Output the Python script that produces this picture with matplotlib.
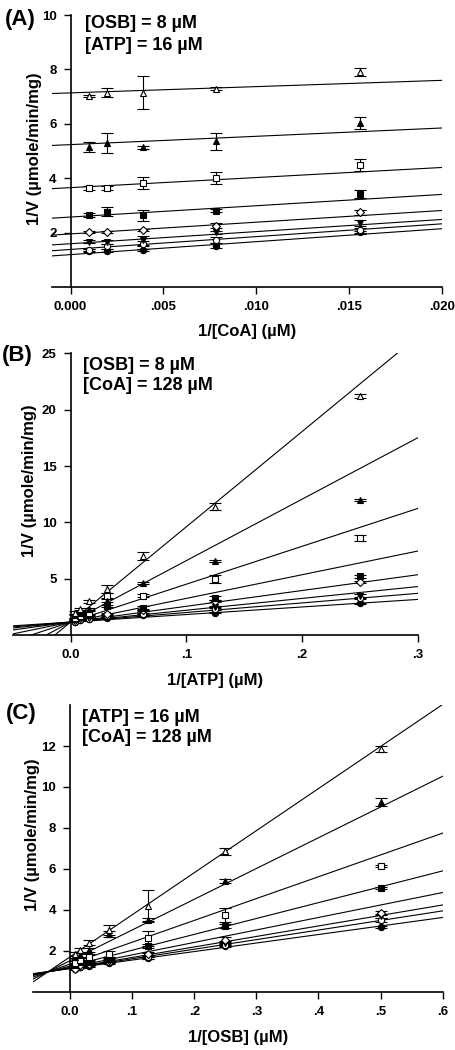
import numpy as np
import matplotlib
matplotlib.use("Agg")
import matplotlib.pyplot as plt

plt.rcParams['font.family'] = ['Liberation Sans', 'DejaVu Sans']
plt.rcParams['font.weight'] = 'bold'

# series order: filled circle, open circle, filled inv. triangle, open diamond,
# filled square, open square, filled triangle, open triangle
markers = ['o', 'o', 'v', 'D', 's', 's', '^', '^']
faces = ['black', 'white', 'black', 'white', 'black', 'white', 'black', 'white']

# ---- Panel A: 1/[CoA]
a_x = [1 / 1024, 1 / 512, 1 / 256, 1 / 128, 1 / 64]
a_y = [
    [1.35, 1.35, 1.37, 1.53, 2.02],
    [1.37, 1.50, 1.60, 1.74, 2.09],
    [1.68, 1.66, 1.72, 2.02, 2.36],
    [2.04, 2.04, 2.10, 2.26, 2.75],
    [2.66, 2.77, 2.64, 2.82, 3.44],
    [3.66, 3.66, 3.83, 4.01, 4.49],
    [5.15, 5.30, 5.14, 5.36, 6.04],
    [7.03, 7.15, 7.14, 7.30, 7.91],
]
a_err = [
    [0.05, 0.05, 0.05, 0.08, 0.05],
    [0.05, 0.10, 0.10, 0.10, 0.10],
    [0.05, 0.08, 0.15, 0.05, 0.10],
    [0.04, 0.04, 0.05, 0.10, 0.10],
    [0.08, 0.17, 0.20, 0.05, 0.15],
    [0.07, 0.07, 0.22, 0.21, 0.21],
    [0.17, 0.37, 0.05, 0.32, 0.21],
    [0.05, 0.17, 0.61, 0.05, 0.15],
]
a_int = [1.20, 1.39, 1.60, 1.96, 2.58, 3.66, 5.24, 7.14]
a_slope = [47.5, 47.0, 44.5, 43.0, 41.5, 37.0, 30.5, 23.0]
a_xticks = [0.0, 0.005, 0.010, 0.015, 0.020]
a_xticklabels = ['0.000', '.005', '.010', '.015', '.020']
a_yticks = [2, 4, 6, 8, 10]

# ---- Panel B: 1/[ATP]
b_x = [1 / 256, 1 / 128, 1 / 64, 1 / 32, 1 / 16, 1 / 8, 1 / 4]
b_y = [
    [1.20, 1.30, 1.40, 1.55, 1.75, 2.00, 2.80],
    [1.20, 1.35, 1.45, 1.70, 1.85, 2.35, 3.30],
    [1.30, 1.40, 1.55, 1.80, 2.10, 2.50, 3.45],
    [1.35, 1.50, 1.65, 1.90, 2.25, 3.00, 4.70],
    [1.45, 1.60, 1.80, 2.55, 2.40, 3.30, 5.20],
    [1.50, 1.70, 2.00, 3.50, 3.50, 4.95, 8.60],
    [1.80, 2.00, 2.30, 3.05, 4.60, 6.55, 12.0],
    [2.00, 2.30, 3.00, 4.10, 7.00, 11.4, 21.2],
]
b_err = [
    [0.05, 0.05, 0.05, 0.05, 0.08, 0.08, 0.08],
    [0.05, 0.05, 0.05, 0.08, 0.08, 0.10, 0.10],
    [0.05, 0.05, 0.05, 0.08, 0.10, 0.10, 0.15],
    [0.05, 0.05, 0.05, 0.08, 0.10, 0.10, 0.10],
    [0.05, 0.05, 0.05, 0.10, 0.15, 0.20, 0.15],
    [0.05, 0.05, 0.10, 0.20, 0.15, 0.35, 0.25],
    [0.05, 0.05, 0.10, 0.15, 0.10, 0.10, 0.10],
    [0.10, 0.10, 0.15, 0.35, 0.35, 0.30, 0.15],
]
b_int = [1.15, 1.15, 1.15, 1.15, 1.15, 1.15, 1.15, 1.15]
b_slope = [6.7, 8.5, 10.5, 14.0, 21.0, 33.6, 54.5, 84.5]
b_xticks = [0.0, 0.1, 0.2, 0.3]
b_xticklabels = ['0.0', '.1', '.2', '.3']
b_yticks = [5, 10, 15, 20, 25]

# ---- Panel C: 1/[OSB]
c_x = [1 / 128, 1 / 64, 1 / 32, 1 / 16, 1 / 8, 1 / 4, 1 / 2]
c_y = [
    [1.15, 1.20, 1.25, 1.40, 1.65, 2.25, 3.18],
    [1.10, 1.20, 1.30, 1.45, 1.70, 2.30, 3.50],
    [1.20, 1.25, 1.35, 1.50, 1.80, 2.40, 3.70],
    [1.10, 1.30, 1.35, 1.55, 1.85, 2.55, 3.85],
    [1.30, 1.45, 1.45, 1.60, 2.25, 3.20, 5.08],
    [1.40, 1.55, 1.70, 1.85, 2.60, 3.75, 6.15],
    [1.70, 1.80, 2.05, 2.80, 3.50, 5.40, 9.25],
    [1.85, 2.05, 2.40, 3.00, 4.20, 6.85, 11.85],
]
c_err = [
    [0.05, 0.05, 0.05, 0.05, 0.05, 0.05, 0.05],
    [0.05, 0.05, 0.05, 0.05, 0.08, 0.08, 0.10],
    [0.05, 0.05, 0.05, 0.08, 0.08, 0.08, 0.10],
    [0.05, 0.05, 0.05, 0.08, 0.10, 0.10, 0.10],
    [0.05, 0.05, 0.05, 0.10, 0.10, 0.10, 0.05],
    [0.10, 0.10, 0.15, 0.15, 0.35, 0.35, 0.05],
    [0.05, 0.10, 0.10, 0.15, 0.10, 0.10, 0.20],
    [0.10, 0.10, 0.12, 0.25, 0.75, 0.18, 0.15],
]
c_int = [1.13, 1.14, 1.16, 1.19, 1.25, 1.35, 1.51, 1.70]
c_slope = [4.16, 4.68, 5.13, 6.09, 7.75, 10.66, 15.02, 20.55]
c_xticks = [0.0, 0.1, 0.2, 0.3, 0.4, 0.5, 0.6]
c_xticklabels = ['0.0', '.1', '.2', '.3', '.4', '.5', '.6']
c_yticks = [2, 4, 6, 8, 10, 12]

ylabel = '1/V (\u00b5mole/min/mg)'


def draw_panel(ax, x, ys, errs, ints, slopes, xlim, ylim, xticks, xticklabels,
               yticks, xlabel, ylab_x, ylab_y):
    xs = np.array(xlim)
    for i in range(len(ys)):
        ax.plot(xs, ints[i] + slopes[i] * xs, color='black', lw=0.8, zorder=1)
        ax.errorbar(x, ys[i], yerr=errs[i], fmt=markers[i], color='black',
                    mfc=faces[i], mec='black', ms=4.5, mew=0.8, elinewidth=0.8,
                    capsize=4, capthick=0.8, zorder=3)
    ax.set_xlim(xlim)
    ax.set_ylim(ylim)
    ax.spines['top'].set_visible(False)
    ax.spines['right'].set_visible(False)
    ax.spines['left'].set_position(('data', 0))
    ax.spines['left'].set_linewidth(1.2)
    ax.spines['bottom'].set_linewidth(1.2)
    ax.set_xticks(xticks)
    ax.set_xticklabels(xticklabels)
    ax.set_yticks(yticks)
    ax.tick_params(direction='out', length=5, width=1, labelsize=9.5, pad=5)
    for lab in ax.get_xticklabels() + ax.get_yticklabels():
        lab.set_fontweight('bold')
    ax.set_xlabel(xlabel, fontsize=12, fontweight='bold')
    ax.xaxis.set_label_coords(0.5, -0.135)
    ax.set_ylabel(ylabel, fontsize=12, fontweight='bold')
    ax.yaxis.set_label_coords(ylab_x, ylab_y)


fig = plt.figure(figsize=(4.56, 10.5), dpi=100)

ax_a = fig.add_axes([0.114, 0.7264, 0.8546, 0.2593])
draw_panel(ax_a, a_x, a_y, a_err, a_int, a_slope, (-0.001, 0.020), (0, 10),
           a_xticks, a_xticklabels, a_yticks, '1/[CoA] (\u00b5M)', -0.026, 0.508)

ax_b = fig.add_axes([0.0279, 0.3952, 0.888, 0.2683])
draw_panel(ax_b, b_x, b_y, b_err, b_int, b_slope, (-0.05, 0.3), (0, 25),
           b_xticks, b_xticklabels, b_yticks, '1/[ATP] (\u00b5M)', 0.06, 0.547)

ax_c = fig.add_axes([0.0717, 0.0555, 0.899, 0.273])
draw_panel(ax_c, c_x, c_y, c_err, c_int, c_slope, (-0.06, 0.6), (0, 14),
           c_xticks, c_xticklabels, c_yticks, '1/[OSB] (\u00b5M)', 0.018, 0.547)

# panel letters and condition notes (figure pixel coords -> fraction)
def fx(px):
    return px / 456


def fy(py):
    return 1 - py / 1050


fig.text(fx(5), fy(19), '(A)', fontsize=16, fontweight='bold', va='center')
fig.text(fx(2), fy(356), '(B)', fontsize=16, fontweight='bold', va='center')
fig.text(fx(6), fy(713), '(C)', fontsize=16, fontweight='bold', va='center')

notes = [
    (fx(85), fy(23), '[OSB] = 8 \u00b5M'),
    (fx(85), fy(45), '[ATP] = 16 \u00b5M'),
    (fx(83), fy(365), '[OSB] = 8 \u00b5M'),
    (fx(83), fy(386), '[CoA] = 128 \u00b5M'),
    (fx(82), fy(717), '[ATP] = 16 \u00b5M'),
    (fx(82), fy(738), '[CoA] = 128 \u00b5M'),
]
for x0, y0, s in notes:
    fig.text(x0, y0, s, fontsize=13, fontweight='bold', va='center')

fig.savefig('out.png', dpi=100)
